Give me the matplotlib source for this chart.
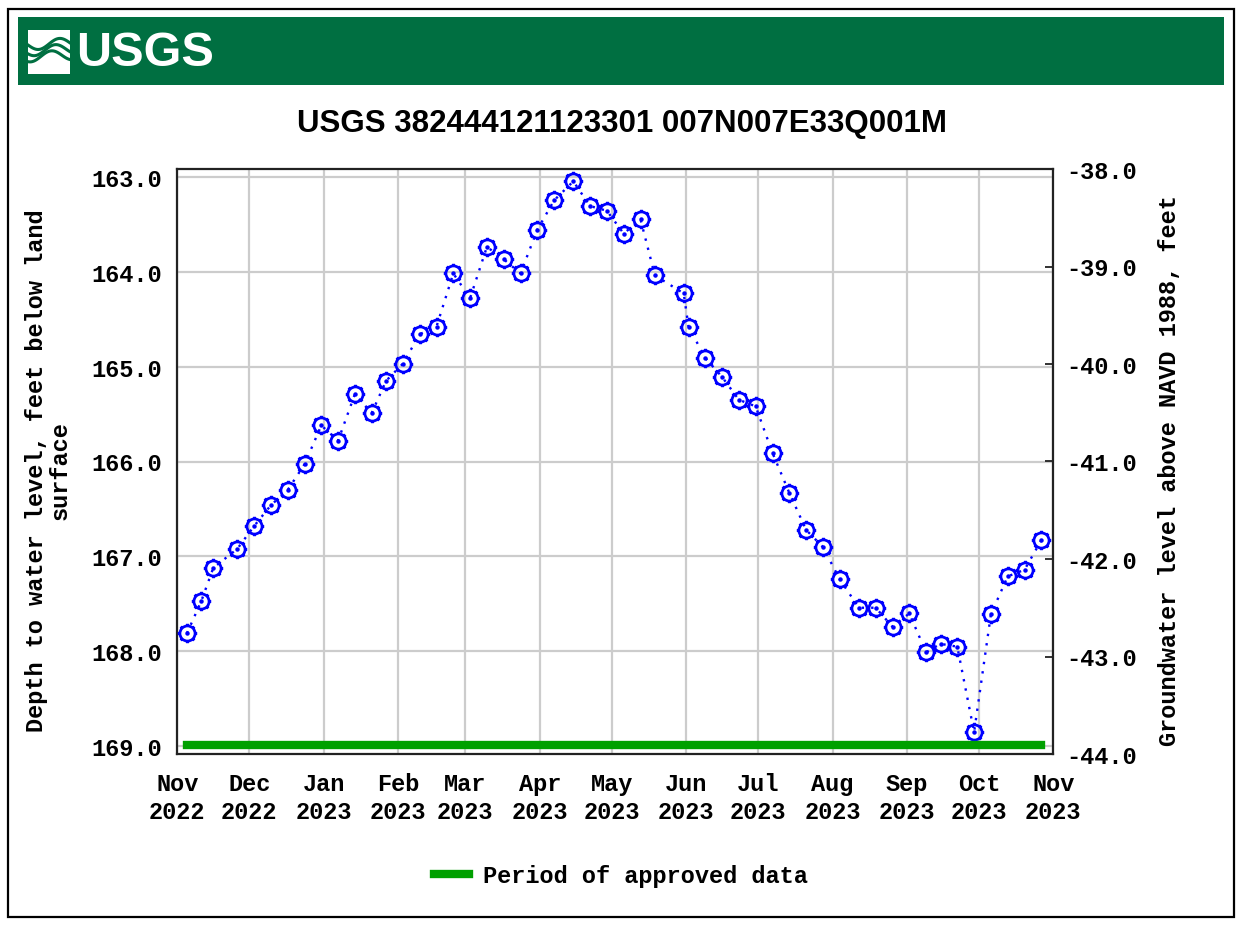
import numpy as np
import pandas as pd
import matplotlib
matplotlib.use('Agg')
import matplotlib.pyplot as plt
from matplotlib.path import Path
from matplotlib.patches import Rectangle
from matplotlib.lines import Line2D

# measurement dates and depth to water (ft below land surface)
dates = ['2022-11-05', '2022-11-11', '2022-11-16', '2022-11-26', '2022-12-03',
         '2022-12-10', '2022-12-17', '2022-12-24', '2022-12-31', '2023-01-07',
         '2023-01-14', '2023-01-21', '2023-01-27', '2023-02-03', '2023-02-10',
         '2023-02-17', '2023-02-24', '2023-03-03', '2023-03-10', '2023-03-17',
         '2023-03-24', '2023-03-31', '2023-04-07', '2023-04-15', '2023-04-22',
         '2023-04-29', '2023-05-06', '2023-05-13', '2023-05-19', '2023-05-31',
         '2023-06-02', '2023-06-09', '2023-06-16', '2023-06-23', '2023-06-30',
         '2023-07-07', '2023-07-14', '2023-07-21', '2023-07-28', '2023-08-04',
         '2023-08-12', '2023-08-19', '2023-08-26', '2023-09-02', '2023-09-09',
         '2023-09-15', '2023-09-22', '2023-09-29', '2023-10-06', '2023-10-13',
         '2023-10-20', '2023-10-27']
depth = [167.81, 167.47, 167.12, 166.92, 166.68, 166.46, 166.30, 166.03, 165.62, 165.78,
         165.29, 165.49, 165.15, 164.97, 164.66, 164.58, 164.02, 164.28, 163.74, 163.87,
         164.02, 163.56, 163.25, 163.05, 163.31, 163.36, 163.60, 163.45, 164.04, 164.23,
         164.58, 164.91, 165.11, 165.35, 165.42, 165.91, 166.33, 166.72, 166.90, 167.24,
         167.54, 167.54, 167.74, 167.60, 168.01, 167.92, 167.95, 168.85, 167.61, 167.21,
         167.14, 166.83]

month_ticks = pd.date_range('2022-11-01', '2023-11-01', freq='MS')
month_labels = [d.strftime('%b\n%Y') for d in month_ticks]
left_ticks = [163.0, 164.0, 165.0, 166.0, 167.0, 168.0, 169.0]
right_ticks = [-38.0, -39.0, -40.0, -41.0, -42.0, -43.0, -44.0]

title = 'USGS 382444121123301 007N007E33Q001M'
left_label = 'Depth to water level, feet below land\nsurface'
right_label = 'Groundwater level above NAVD 1988, feet'

plt.rcParams['axes.unicode_minus'] = False
mono = ['Liberation Mono', 'DejaVu Sans Mono']
narrow = ['Liberation Sans Narrow', 'Liberation Sans', 'DejaVu Sans']
fs = 17

W, H = 1248, 928
def fx(x):
    return x / W
def fy(y):
    return 1 - y / H

fig = plt.figure(figsize=(W / 100, H / 100), dpi=100)

# outer frame and banner
fig.patches.append(Rectangle((fx(8), fy(918)), fx(1234) - fx(8), fy(10) - fy(918),
                             transform=fig.transFigure, fill=False, ec='black', lw=1.6))
fig.patches.append(Rectangle((fx(18), fy(86)), fx(1224) - fx(18), fy(18) - fy(86),
                             transform=fig.transFigure, fc='#006f41', ec='none'))
fig.patches.append(Rectangle((fx(28), fy(75)), fx(70) - fx(28), fy(31) - fy(75),
                             transform=fig.transFigure, fc='white', ec='none'))
# waves in the logo icon
t = np.linspace(28, 70, 60)
for k, off in enumerate([46, 52, 58]):
    yy = off + 5 * np.sin((t - 28) / 42 * 2 * np.pi + 0.6 * k) - (t - 28) * 0.05
    fig.lines.append(Line2D(fx(t), fy(yy), transform=fig.transFigure,
                            color='#006f41', lw=2.2))
fig.text(fx(76), fy(53), 'USGS', color='white', fontsize=35, fontweight='bold',
         family=narrow, ha='left', va='center')

fig.text(fx(622), fy(124), title, ha='center', va='center', fontsize=22.5,
         fontweight='bold', family=narrow)

ax = fig.add_axes([fx(177.3), fy(755), (1053.3 - 177.3) / W, (755 - 170) / H])
x = pd.to_datetime(dates)

# custom marker: circle with small spokes
circ = Path.circle((0, 0), 1.0)
verts, codes = [], []
for a in np.arange(8) * np.pi / 4:
    verts += [(np.cos(a), np.sin(a)), (1.28 * np.cos(a), 1.28 * np.sin(a))]
    codes += [Path.MOVETO, Path.LINETO]
gear = Path.make_compound_path(circ, Path(verts, codes))

ax.plot(x, depth, color='blue', lw=1.7, ls=(0, (1, 3)), zorder=3)
ax.plot(x, depth, ls='none', marker=gear, ms=14, mfc='none', mec='blue', mew=2.0, zorder=4)
ax.plot(x, depth, ls='none', marker='o', ms=2.2, color='blue', zorder=4)

# approved data period
ax.plot([x[0], x[-1]], [0.0155, 0.0155], transform=ax.get_xaxis_transform(),
        color='#00a000', lw=6, solid_capstyle='projecting', zorder=5,
        label='Period of approved data')

ax.set_xlim(pd.Timestamp('2022-11-01'), pd.Timestamp('2023-11-01'))
ax.set_ylim(169.08, 162.92)
ax.set_xticks(month_ticks)
ax.set_xticklabels(month_labels, family=mono, fontweight='bold', fontsize=fs,
                   linespacing=1.3)
ax.set_yticks(left_ticks)
ax.set_yticklabels(['%.1f' % v for v in left_ticks], family=mono, fontweight='bold',
                   fontsize=fs)
ax.tick_params(axis='x', length=0, pad=13)
ax.tick_params(axis='y', length=0, pad=11)
ax.grid(True, color='#cccccc', lw=1.6, zorder=0)
ax.set_axisbelow(True)
for s in ax.spines.values():
    s.set_color('#222222')
    s.set_linewidth(1.6)

ax2 = ax.twinx()
ax2.set_ylim(-44, -38)
ax2.set_yticks(right_ticks)
ax2.set_yticklabels(['%.1f' % v for v in right_ticks], family=mono, fontweight='bold',
                    fontsize=fs)
ax2.tick_params(axis='y', direction='in', length=6, width=1.3, pad=9, color='#222222')
for s in ax2.spines.values():
    s.set_visible(False)

fig.text(fx(48), fy(471), left_label, rotation=90, ha='center', va='center',
         multialignment='center', family=mono, fontweight='bold', fontsize=fs,
         linespacing=1.05)
fig.text(fx(1170), fy(471), right_label, rotation=90, ha='center', va='center',
         family=mono, fontweight='bold', fontsize=fs)

h, l = ax.get_legend_handles_labels()
fig.legend(h, l, loc='center', bbox_to_anchor=(fx(621), fy(877)), frameon=False,
           handlelength=1.5, handletextpad=0.6,
           prop={'family': mono, 'weight': 'bold', 'size': fs})

fig.savefig('out.png', dpi=100)
